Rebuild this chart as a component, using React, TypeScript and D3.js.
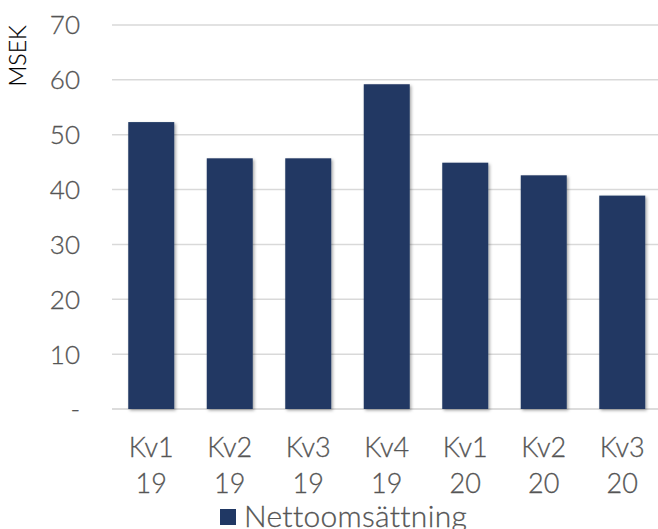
import React from "react";
import * as d3 from "d3";

const categories = ["Kv1\n19", "Kv2\n19", "Kv3\n19", "Kv4\n19", "Kv1\n20", "Kv2\n20", "Kv3\n20"];
const nettoomsattning = [52.3, 45.7, 45.7, 59.2, 44.9, 42.6, 38.9];
const yTicks = [0, 10, 20, 30, 40, 50, 60, 70];
const seriesName = "Nettoomsättning";
const yTitle = "MSEK";

const W = 658;
const H = 529;
const FONT = "Lato, 'Open Sans', sans-serif";

export default function App() {
  const x = d3
    .scaleBand<string>()
    .domain(categories)
    .range([112, 661.5])
    .paddingInner(0.414)
    .paddingOuter(0.207);
  const y = d3.scaleLinear().domain([0, 70]).range([409, 25]);

  return (
    <svg
      width={W}
      height={H}
      style={{ position: "fixed", left: 0, top: 0, background: "#fff" }}
      fontFamily={FONT}
      fontWeight={300}
    >
      <defs>
        <filter id="sh" x="-20%" y="-20%" width="150%" height="150%">
          <feDropShadow dx="1.5" dy="1.5" stdDeviation="1.8" floodColor="#000" floodOpacity="0.35" />
        </filter>
      </defs>
      {yTicks.map((t) => (
        <g key={t}>
          <line x1={112} x2={658} y1={y(t)} y2={y(t)} stroke={t === 0 ? "#d0d0d0" : "#d9d9d9"} strokeWidth={1.5} />
          <text x={80} y={y(t)} dy="0.36em" textAnchor="end" fontSize={26} fill="#555" stroke="#555" strokeWidth={0.3}>
            {t === 0 ? "-" : t}
          </text>
        </g>
      ))}
      <text
        transform={`translate(26,56) rotate(-90)`}
        textAnchor="middle"
        fontSize={23}
        fill="#000"
        stroke="#000"
        strokeWidth={0.2}
      >
        {yTitle}
      </text>
      {categories.map((c, i) => (
        <rect
          key={c}
          x={x(c)}
          y={y(nettoomsattning[i])}
          width={x.bandwidth()}
          height={y(0) - y(nettoomsattning[i])}
          fill="#203864"
          filter="url(#sh)"
        />
      ))}
      {categories.map((c) => {
        const [a, b] = c.split("\n");
        const cx = (x(c) as number) + x.bandwidth() / 2;
        return (
          <text key={c} textAnchor="middle" fontSize={27} fill="#555" stroke="#555" strokeWidth={0.3}>
            <tspan x={cx} y={457}>{a}</tspan>
            <tspan x={cx} y={493}>{b}</tspan>
          </text>
        );
      })}
      <rect x={220} y={509} width={16} height={16} fill="#203864" />
      <text x={244} y={527} fontSize={30} letterSpacing={0.3} fill="#555" stroke="#555" strokeWidth={0.3}>
        {seriesName}
      </text>
    </svg>
  );
}
